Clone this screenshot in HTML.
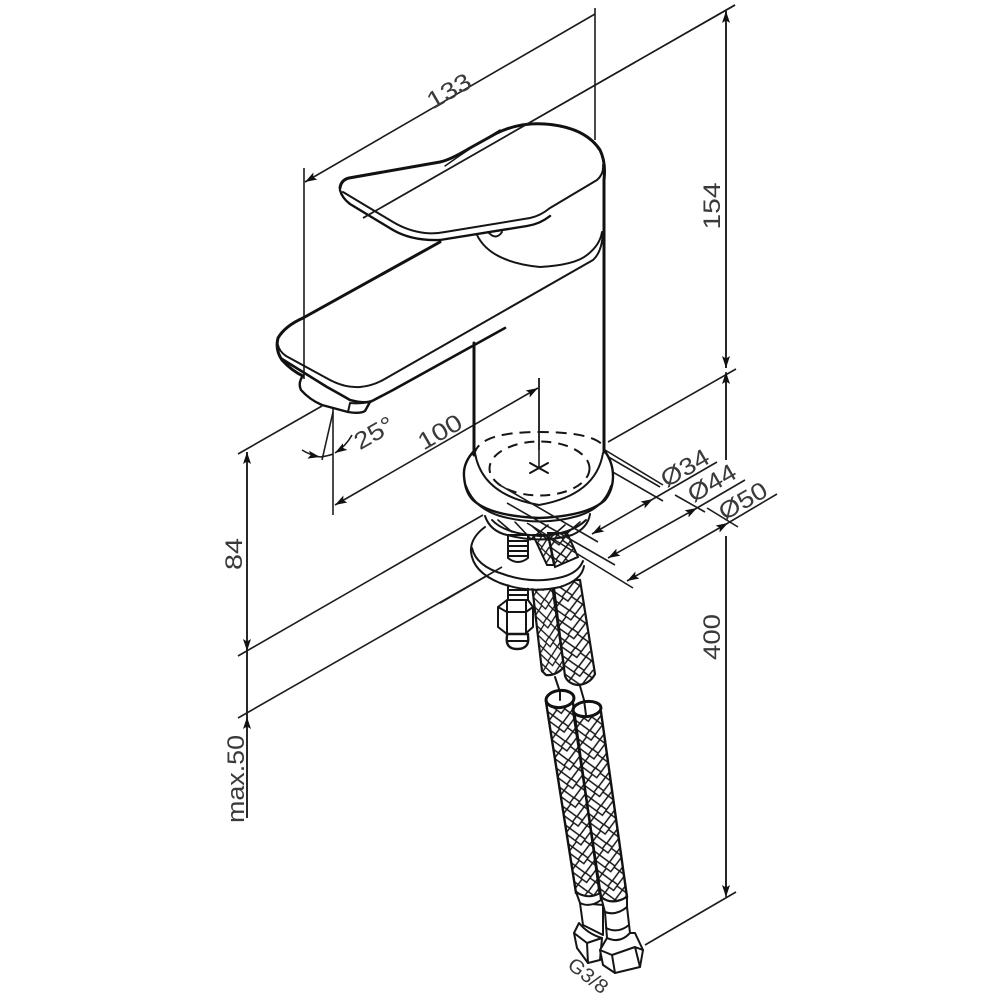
<!DOCTYPE html>
<html><head><meta charset="utf-8"><style>
html,body{margin:0;padding:0;background:#fff}
svg{display:block}
.t{font-family:"Liberation Sans",sans-serif;font-size:24px;fill:#3a3a3a;text-anchor:middle}
.d{stroke:#1c1c1c;stroke-width:1.6;fill:none}
.k{stroke:#151515;stroke-width:2;fill:none;stroke-linecap:round;stroke-linejoin:round}
.b{stroke:#111;stroke-width:3;fill:none;stroke-linecap:round;stroke-linejoin:round}
.w{fill:#fff;stroke:#151515;stroke-width:2;stroke-linejoin:round}
</style></head><body>
<svg width="1000" height="1000" viewBox="0 0 1000 1000" xmlns="http://www.w3.org/2000/svg">
<defs>
<g id="br" fill="none" stroke="#151515" stroke-width="1.500">
<path d="M0 -19L13.500 -5.500L27 -19M0 -9.500L13.500 4L27 -9.500M0 0L13.500 13.500L27 0M0 9.500L13.500 23L27 9.500M0 19L13.500 32.500L27 19"/>
<path d="M0 19l4.750 -4.750M8.500 8.500l4.750 -4.750M4.750 14.250l4.750 -4.750"/>
<path d="M27 19l-4.750 -4.750M18.500 8.500l-4.750 -4.750M22.250 14.250l-4.750 -4.750"/>
</g>
<pattern id="pA" width="27" height="19" patternUnits="userSpaceOnUse" patternTransform="translate(546,702) rotate(-8.500)"><use href="#br"/></pattern>
<pattern id="pB" width="27" height="19" patternUnits="userSpaceOnUse" patternTransform="translate(573,710) rotate(-8.500)"><use href="#br"/></pattern>
<pattern id="pC" width="22" height="19" patternUnits="userSpaceOnUse" patternTransform="translate(533,597) rotate(-7)"><g transform="scale(.815,1)"><use href="#br"/></g></pattern>
<pattern id="pD" width="28" height="19" patternUnits="userSpaceOnUse" patternTransform="translate(552,590) rotate(-9)"><g transform="scale(1.037,1)"><use href="#br"/></g></pattern>
<marker id="a" viewBox="0 0 12 8" refX="12" refY="4" markerWidth="12" markerHeight="8" markerUnits="userSpaceOnUse" orient="auto-start-reverse"><path d="M0 0L12 4L0 8L2.500 4Z" fill="#111"/></marker>
</defs>

<!-- dimension lines -->
<g class="d">
<path d="M304 168V379"/>
<path d="M595 8V140"/>
<path d="M305 182L595 14" marker-start="url(#a)"/>
<path d="M363 218L735 5"/>
<path d="M726 11V368" marker-start="url(#a)" marker-end="url(#a)" stroke-width="1.900"/>
<path d="M608 442L736 369"/>
<path d="M726 374V460M726 536V895" stroke-width="1.900"/>
<path d="M726 372V385" marker-start="url(#a)"/>
<path d="M726 880V897" marker-end="url(#a)"/>
<path d="M645 945L736 892"/>
<path d="M247 452V651" marker-start="url(#a)" marker-end="url(#a)" stroke-width="1.900"/>
<path d="M247 717V818" marker-start="url(#a)" stroke-width="1.900"/>
<path d="M247 651V717" stroke-width="1.900"/>
<path d="M238 454L322 406"/>
<path d="M238 656L483 515"/>
<path d="M238 718L502 567"/>
<path d="M333 408V515"/>
<path d="M333 412L322 460"/>
<path d="M335 505L538 388" marker-start="url(#a)" marker-end="url(#a)"/>
<path d="M302 450Q310 455 320 457" marker-end="url(#a)"/>
<path d="M320 457Q328 456 333 454"/>
<path d="M352 435Q346 446 335 453" marker-end="url(#a)"/>
<path d="M653 499L717 462"/>
<path d="M592 534L653 499" marker-start="url(#a)" marker-end="url(#a)"/>
<path d="M608 558L697 508" marker-start="url(#a)" marker-end="url(#a)"/>
<path d="M697 508L745 480"/>
<path d="M627 581L728 523" marker-start="url(#a)" marker-end="url(#a)"/>
<path d="M728 523L777 494"/>
<path d="M605 450L663 485M605 455L660 487"/>
<path d="M578 452L663 501"/>
<path d="M675 495L705 512M707 508L738 527"/>
</g>

<!-- dim text -->
<text class="t" transform="translate(453,98) rotate(-30)" textLength="47" lengthAdjust="spacingAndGlyphs">133</text>
<text class="t" transform="translate(720,206) rotate(-90)" textLength="47" lengthAdjust="spacingAndGlyphs">154</text>
<text class="t" transform="translate(720,637) rotate(-90)" textLength="46" lengthAdjust="spacingAndGlyphs">400</text>
<text class="t" transform="translate(242,554) rotate(-90)" textLength="32" lengthAdjust="spacingAndGlyphs">84</text>
<text class="t" transform="translate(244,779) rotate(-90)" textLength="88" lengthAdjust="spacingAndGlyphs">max.50</text>
<text class="t" transform="translate(444,439) rotate(-30)" textLength="47" lengthAdjust="spacingAndGlyphs">100</text>
<text class="t" transform="translate(378,440) rotate(-30)" textLength="42" lengthAdjust="spacingAndGlyphs">25°</text>
<text class="t" transform="translate(689,475) rotate(-30)" textLength="52" lengthAdjust="spacingAndGlyphs">Ø34</text>
<text class="t" transform="translate(716,490) rotate(-30)" textLength="52" lengthAdjust="spacingAndGlyphs">Ø44</text>
<text class="t" transform="translate(747,508) rotate(-30)" textLength="52" lengthAdjust="spacingAndGlyphs">Ø50</text>
<text class="t" transform="translate(584,981) rotate(38)" style="font-size:20px" textLength="45" lengthAdjust="spacingAndGlyphs">G3/8</text>

<!-- faucet -->
<path class="b" d="M474 343V453"/>
<path class="b" d="M604 222V450"/>
<path class="k" d="M477 235Q490 262 540 267Q575 265 587 255Q600 245 602 232"/>
<path class="k" d="M488 232Q496 241 502 232"/>
<path class="b" d="M440 242L303 318Q285 326 278 338Q275 350 282 360Q292 371 303 376"/>
<path class="k" d="M278 345Q279 351 286 356L330 380Q345 388 360 387Q372 386 383 380L593 260Q602 252 603 232"/>
<path class="b" d="M282 359L327 387Q345 397 350 400Q365 404 372 401L393 390L505 328" style="stroke-width:2.600"/>
<path class="b" d="M302 377Q298 384 301 390Q310 400 322 405L348 412Q360 414 365 411L370 402" style="stroke-width:2.400"/>
<path class="k" d="M350 403L348 412M350 403Q360 404 369 402"/>
<path class="b" d="M340 188Q341 180 349 178L440 162Q450 160 470 148L497 133Q520 122 545 124Q585 127 600 150Q606 162 604 180V222"/>
<path class="k" d="M343 192L393 222Q408 231 425 233Q435 234 445 232L530 218Q540 216 550 208L597 180Q604 174 603 165"/>
<path class="b" d="M340 190Q342 198 350 204L393 230Q412 241 440 240L527 226Q540 224 550 216" style="stroke-width:2.400"/>
<path class="k" d="M500 130Q470 148 445 166" style="stroke-width:1.400"/>
<path class="d" d="M363 218L735 5"/>
<path class="d" d="M539 378V468"/>

<!-- upper hoses (below washer) -->
<path d="M553 580L580 580L595 674Q590 684 578 685Q568 684 565 676Z" fill="url(#pD)" stroke="#151515" stroke-width="2.200"/>
<path d="M532 585L552 585L564 667Q556 676 546 675L542 671Z" fill="url(#pC)" stroke="#151515" stroke-width="2.200"/>
<path class="k" d="M555 677L560 692M580 686L584 700"/>
<!-- nut and rod below washer -->
<path class="w" d="M508 584H528V600H508Z"/>
<path class="k" d="M508 590H528M508 595H528"/>
<path class="w" d="M498 607L507 600H528L533 607V627L525 634H507L498 627Z"/>
<path class="k" d="M507 601V633M526 601V633M498 607L507 612H526L533 607"/>
<path class="w" d="M507 636Q505 649 517 649Q530 649 528 636V634H507Z" style="stroke-width:2.400"/>
<path class="k" d="M507 641H528"/>
<!-- washer -->
<path d="M485 527Q470 540 472 556Q478 576 510 585Q540 592 565 585Q583 578 584 566L578 545L540 525Z" fill="#fff"/>
<path class="k" d="M485 527Q470 538 471 552Q473 572 500 583Q530 594 560 587Q582 580 584 566"/>
<path class="k" d="M472 548Q476 566 503 574Q530 584 558 578Q578 574 583 561"/>
<path class="d" d="M440 603L502 567"/>
<!-- rod and hoses above washer -->
<path class="w" d="M508 535H528V558Q518 566 508 558Z"/>
<path class="k" d="M508 541H528M508 546H528M508 551H528M508 556H528"/>
<path d="M533 535L548 535L554 565L547 565Z" fill="url(#pC)" stroke="#151515" stroke-width="2"/>
<path d="M548 533L567 533L578 557L555 567Z" fill="url(#pD)" stroke="#151515" stroke-width="2"/>
<!-- gasket band -->
<path class="k" d="M485 516Q490 531 507 535Q540 544 572 535Q588 528 590 514"/>
<path class="k" d="M492 520Q505 534 540 536Q572 534 586 520"/>
<path class="k" d="M498 520L512 532M515 522L530 538M532 526L548 540M548 525L530 540M565 525L550 538M580 522L565 535" style="stroke-width:1.600"/>
<!-- flange -->
<path d="M475 450Q463 462 464 476Q465 495 478 505Q500 523 539 524Q578 523 600 505Q613 495 613 476Q613 462 603 450Z" fill="#fff"/>
<path class="b" style="stroke-width:2.400" d="M475 450Q463 462 464 476Q465 492 473 500Q490 516 539 518Q588 516 605 500Q613 490 613 476Q613 462 604 450"/>
<path class="k" d="M466 486Q474 508 500 516Q539 527 578 516Q604 508 611 486"/>
<path class="k" d="M475 453Q482 495 539 505Q596 495 603 453"/>
<path class="b" d="M474 440V455M604 438V452"/>
<path d="M475 452Q482 432 539 432Q596 432 605 448" fill="none" stroke="#151515" stroke-width="2" stroke-dasharray="11 7" stroke-dashoffset="3"/>
<ellipse cx="539.500" cy="468.500" rx="50" ry="27" fill="none" stroke="#151515" stroke-width="2" stroke-dasharray="10 7"/>
<path d="M530 463L548 473M548 463L530 473" class="k"/>
<path d="M539 378V468" class="d"/>
<path class="d" d="M498 484L598 542M507 503L615 565M527 523L633 588"/>

<!-- lower hoses -->
<path d="M546 702L576 893Q588 899 600 896L573 703Z" fill="url(#pA)" stroke="#111" stroke-width="2.400"/>
<path d="M573 710L601 897Q612 906 627 897L601 712Z" fill="url(#pB)" stroke="#111" stroke-width="2.400"/>
<ellipse cx="560" cy="699" rx="14" ry="8.500" transform="rotate(-6 560 699)" fill="#fff" stroke="#111" stroke-width="3"/>
<ellipse cx="587" cy="709" rx="14" ry="7.500" transform="rotate(-6 587 709)" fill="#fff" stroke="#111" stroke-width="3"/>
<path class="k" d="M560 692V700M584 700L586 715"/>
<!-- fittings A -->
<path class="w" d="M580 903L583 925L603 935V905Z"/>
<path class="w" d="M576 892L580 903Q590 908 601 900L600 893Q588 900 576 892Z"/>
<path class="w" d="M574 933L579 923Q588 934 602 938L600 960L588 963L577 948Z"/>
<path class="k" d="M574 933L587 943L602 938M587 943L588 963"/>
<!-- fittings B -->
<path class="w" d="M605 912L607 938Q620 944 630 933L627 907Q616 916 605 912Z"/>
<path class="k" d="M606 928Q618 934 629 925"/>
<path class="w" d="M601 897L605 912Q616 916 627 907L627 897Q612 906 601 897Z"/>
<path class="w" d="M600 950L607 938Q620 944 630 933L635 933L643 950L640 967L615 973L603 965Z"/>
<path class="k" d="M600 950L612 955L635 947L643 950M612 955L615 973M635 947L640 967"/>
</svg>
</body></html>
